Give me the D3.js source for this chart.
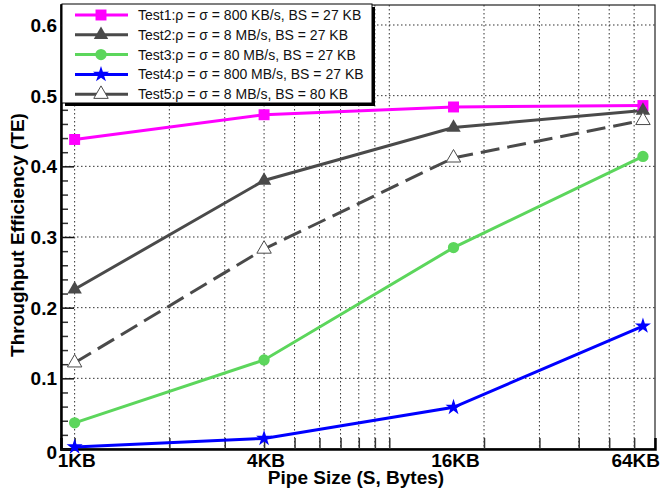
<!DOCTYPE html>
<html>
<head>
<meta charset="utf-8">
<script src="https://cdn.jsdelivr.net/npm/d3@7"></script>
<style>
  body { margin: 0; background: #fff; }
  text { font-family: "Liberation Sans", Arial, sans-serif; }
</style>
</head>
<body>
<div id="chart"></div>
<script>
// pipe sizes in KB
var sizes = [1, 4, 16, 64];
var sizeLabels = ["1KB", "4KB", "16KB", "64KB"];

var test1 = [0.438, 0.473, 0.484, 0.486];
var test2 = [0.226, 0.380, 0.455, 0.479];
var test3 = [0.037, 0.126, 0.285, 0.414];
var test4 = [0.003, 0.015, 0.059, 0.174];
var test5 = [0.122, 0.283, 0.412, 0.465];

var seriesNames = [
    "Test1:\u03c1 = \u03c3 = 800 KB/s, BS = 27 KB",
    "Test2:\u03c1 = \u03c3 = 8 MB/s, BS = 27 KB",
    "Test3:\u03c1 = \u03c3 = 80 MB/s, BS = 27 KB",
    "Test4:\u03c1 = \u03c3 = 800 MB/s, BS = 27 KB",
    "Test5:\u03c1 = \u03c3 = 8 MB/s, BS = 80 KB"
];

var yTicks = [0, 0.1, 0.2, 0.3, 0.4, 0.5, 0.6];
var xGridTicks = [1, 2, 3, 4, 5, 6, 7, 8, 9, 10, 20, 30, 40, 50, 60];

var svgWidth = 662;
var svgHeight = 494;
var margin = { top: 5, right: 7, bottom: 45, left: 61 };
var width = svgWidth - margin.left - margin.right;
var height = svgHeight - margin.top - margin.bottom;

var svg = d3.select("#chart")
    .append("svg")
    .attr("width", svgWidth)
    .attr("height", svgHeight);

var chartGroup = svg.append("g")
    .attr("transform", `translate(${margin.left}, ${margin.top})`);

var xScale = d3.scaleLog()
    .domain([0.905, 69.9])
    .range([0, width]);

var yScale = d3.scaleLinear()
    .domain([0, 0.6283])
    .range([height, 0]);

// grid
chartGroup.append("g")
    .selectAll("line")
    .data(yTicks.slice(1))
    .enter()
    .append("line")
    .attr("x1", 0).attr("x2", width)
    .attr("y1", d => yScale(d)).attr("y2", d => yScale(d))
    .attr("stroke", "#333").attr("stroke-width", 1)
    .attr("stroke-dasharray", "1.5,2.5");

chartGroup.append("g")
    .selectAll("line")
    .data(xGridTicks)
    .enter()
    .append("line")
    .attr("x1", d => xScale(d)).attr("x2", d => xScale(d))
    .attr("y1", 0).attr("y2", height)
    .attr("stroke", "#333").attr("stroke-width", 1)
    .attr("stroke-dasharray", "1.5,2.5");

// frame
chartGroup.append("rect")
    .attr("width", width).attr("height", height)
    .attr("fill", "none").attr("stroke", "#222").attr("stroke-width", 1.2);

// x axis ticks (inside, bottom)
var bottomAxis = d3.axisTop(xScale)
    .tickValues(xGridTicks)
    .tickSize(11)
    .tickFormat("");
chartGroup.append("g")
    .attr("transform", `translate(0, ${height})`)
    .call(bottomAxis)
    .call(g => g.select(".domain").attr("stroke", "#000").attr("stroke-width", 2.5))
    .call(g => g.selectAll(".tick line").attr("stroke", "#333").attr("stroke-width", 1.5));

chartGroup.append("g")
    .selectAll("text")
    .data(sizes)
    .enter()
    .append("text")
    .attr("x", (d, i) => i === sizes.length - 1 ? width + 5 : xScale(d) + 2)
    .attr("y", height + 18)
    .attr("text-anchor", (d, i) => i === sizes.length - 1 ? "end" : "middle")
    .attr("font-size", "19px")
    .attr("font-weight", "bold")
    .text((d, i) => sizeLabels[i]);

// y axis
var minorTicks = d3.range(0, 0.62, 0.02).filter(v => Math.abs(v * 10 - Math.round(v * 10)) > 1e-6);
chartGroup.append("g")
    .call(d3.axisRight(yScale).tickValues(minorTicks).tickSize(7).tickFormat(""))
    .call(g => g.select(".domain").remove())
    .call(g => g.selectAll(".tick line").attr("stroke", "#333").attr("stroke-width", 1.5));

var leftAxis = d3.axisRight(yScale)
    .tickValues(yTicks)
    .tickSize(13)
    .tickFormat("");
chartGroup.append("g")
    .call(leftAxis)
    .call(g => g.select(".domain").attr("stroke", "#000").attr("stroke-width", 2.5))
    .call(g => g.selectAll(".tick line").attr("stroke", "#111").attr("stroke-width", 1.5));

chartGroup.append("g")
    .selectAll("text")
    .data(yTicks)
    .enter()
    .append("text")
    .attr("x", -4)
    .attr("y", d => yScale(d) + 7 + (d === 0 ? 3 : 0))
    .attr("text-anchor", "end")
    .attr("font-size", "19px")
    .attr("font-weight", "bold")
    .text(d => d === 0 ? "0" : d3.format(".1f")(d));

// axis titles
svg.append("text")
    .attr("x", margin.left + width / 2 - 2)
    .attr("y", 484)
    .attr("text-anchor", "middle")
    .attr("font-size", "19px")
    .attr("font-weight", "bold")
    .text("Pipe Size (S, Bytes)");

svg.append("text")
    .attr("transform", "translate(24, 235) rotate(-90)")
    .attr("text-anchor", "middle")
    .attr("font-size", "19px")
    .attr("font-weight", "bold")
    .text("Throughput Efficiency (TE)");

// series
var series = [
    { values: test1, color: "#ff00ff", symbol: d3.symbolSquare, size: 120, fill: true, dash: null },
    { values: test2, color: "#4a4a4a", symbol: d3.symbolTriangle, size: 90, fill: true, dash: null },
    { values: test3, color: "#5cd65c", symbol: d3.symbolCircle, size: 100, fill: true, dash: null },
    { values: test4, color: "#0000ff", symbol: d3.symbolStar, size: 80, fill: true, dash: null },
    { values: test5, color: "#4a4a4a", symbol: d3.symbolTriangle, size: 90, fill: false, dash: "19,8" }
];

var line = d3.line()
    .x((d, i) => xScale(sizes[i]))
    .y(d => yScale(d));

series.forEach(function(s) {
    chartGroup.append("path")
        .datum(s.values)
        .attr("d", line)
        .attr("fill", "none")
        .attr("stroke", s.color)
        .attr("stroke-width", 3)
        .attr("stroke-dasharray", s.dash);
});

series.forEach(function(s) {
    chartGroup.selectAll(null)
        .data(s.values)
        .enter()
        .append("path")
        .attr("transform", (d, i) => `translate(${xScale(sizes[i])}, ${yScale(d)})`)
        .attr("d", d3.symbol().type(s.symbol).size(s.size))
        .attr("fill", s.fill ? s.color : "#fff")
        .attr("stroke", s.fill ? "none" : s.color)
        .attr("stroke-width", 1);
});

// legend
var legend = svg.append("g").attr("transform", "translate(62, 4)");
legend.append("rect")
    .attr("x", 3).attr("y", 3)
    .attr("width", 310).attr("height", 99)
    .attr("fill", "#000");
legend.append("rect")
    .attr("width", 310).attr("height", 99)
    .attr("fill", "#fff").attr("stroke", "#000").attr("stroke-width", 1);

series.forEach(function(s, i) {
    var y = 11 + i * 19.8;
    legend.append("line")
        .attr("x1", 13).attr("x2", 66)
        .attr("y1", y).attr("y2", y)
        .attr("stroke", s.color).attr("stroke-width", 3);
    legend.append("path")
        .attr("transform", `translate(39, ${y})`)
        .attr("d", d3.symbol().type(s.symbol).size(s.size))
        .attr("fill", s.fill ? s.color : "#fff")
        .attr("stroke", s.fill ? "none" : s.color)
        .attr("stroke-width", 1);
    legend.append("text")
        .attr("x", 76)
        .attr("y", y + 5)
        .attr("font-size", "14px")
        .attr("fill", "#111")
        .text(seriesNames[i]);
});
</script>
</body>
</html>
